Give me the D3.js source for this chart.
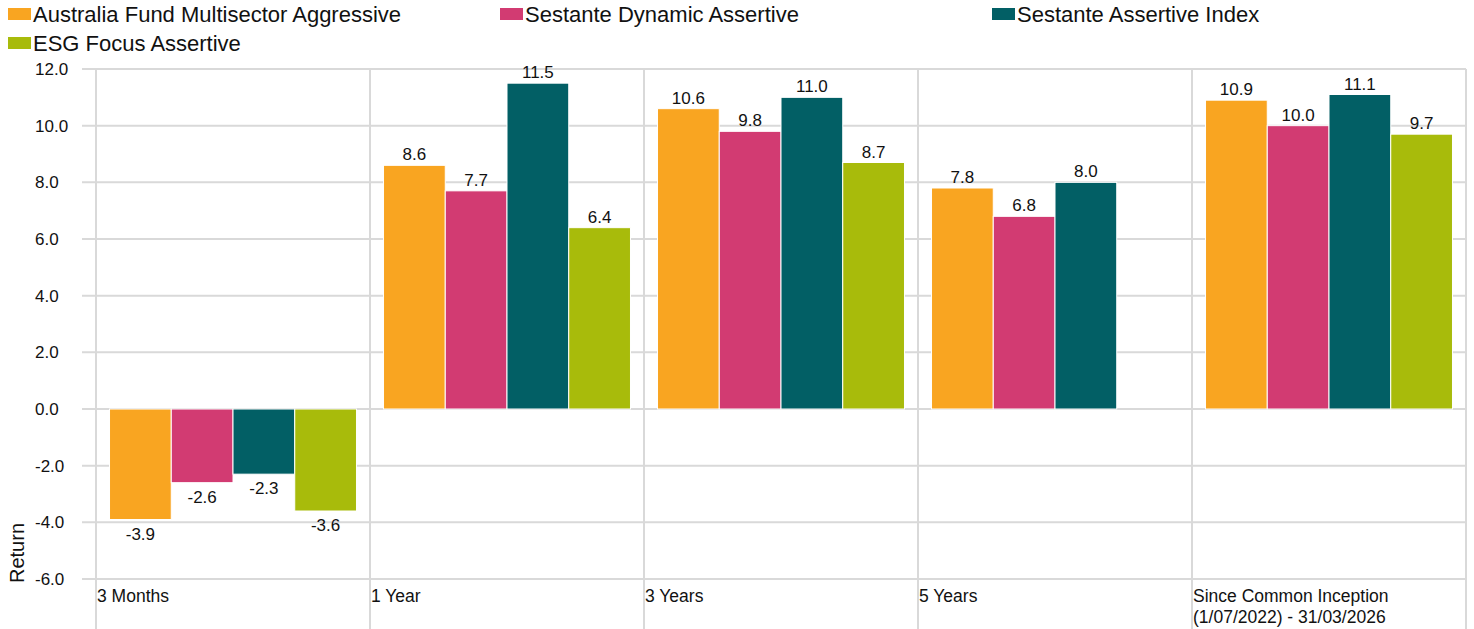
<!DOCTYPE html>
<html>
<head>
<meta charset="utf-8">
<script src="https://cdn.jsdelivr.net/npm/d3@7"></script>
<style>
  html, body { margin: 0; padding: 0; background: #fff; }
  svg { display: block; font-family: "Liberation Sans", Arial, sans-serif; }
</style>
</head>
<body>
<svg id="chart" width="1474" height="629"></svg>
<script>
const categories = ["3 Months", "1 Year", "3 Years", "5 Years", "Since Common Inception\n(1/07/2022) - 31/03/2026"];
const seriesNames = ["Australia Fund Multisector Aggressive", "Sestante Dynamic Assertive", "Sestante Assertive Index", "ESG Focus Assertive"];
const seriesColors = ["#F9A521", "#D23B72", "#025F65", "#A8BB0B"];
const australiaFund = [-3.9, 8.6, 10.6, 7.8, 10.9];
const sestanteDynamic = [-2.6, 7.7, 9.8, 6.8, 10.0];
const sestanteIndex = [-2.3, 11.5, 11.0, 8.0, 11.1];
const esgFocus = [-3.6, 6.4, 8.7, null, 9.7];
const yTicks = [-6, -4, -2, 0, 2, 4, 6, 8, 10, 12];
const yTitle = "Return";

const seriesValues = [australiaFund, sestanteDynamic, sestanteIndex, esgFocus];

(function () {
const svg = d3.select("#chart");
const pLeft = 96, pRight = 1466, pTop = 69, pBottom = 579;

const x0 = d3.scaleBand().domain(categories).range([pLeft, pRight]).paddingInner(0).paddingOuter(0);
const x1 = d3.scaleBand().domain(seriesNames).range([0, x0.bandwidth()]).paddingInner(0).paddingOuter(0.219);
const y = d3.scaleLinear().domain([-6, 12]).range([pBottom, pTop]);

const grid = "#d9d9d9";
const ink = "#111";

// horizontal gridlines
svg.append("g").selectAll("line").data(yTicks).join("line")
  .attr("x1", 82).attr("x2", pRight)
  .attr("y1", d => y(d)).attr("y2", d => y(d))
  .attr("stroke", grid).attr("stroke-width", 2);

// vertical gridlines
const vlines = categories.map(c => x0(c)).concat([pRight]);
svg.append("g").selectAll("line").data(vlines).join("line")
  .attr("x1", d => d).attr("x2", d => d)
  .attr("y1", pTop).attr("y2", 629)
  .attr("stroke", grid).attr("stroke-width", 2);

// y tick labels
svg.append("g").selectAll("text").data(yTicks).join("text")
  .attr("x", 35).attr("y", d => y(d) + 6)
  .attr("font-size", 17).attr("fill", ink)
  .text(d => d.toFixed(1));

// y title
svg.append("text")
  .attr("transform", "translate(24,553) rotate(-90)")
  .attr("text-anchor", "middle")
  .attr("font-size", 20).attr("fill", ink)
  .text(yTitle);

// bars
const barData = [];
categories.forEach((c, ci) => {
  seriesNames.forEach((s, si) => {
    const v = seriesValues[si][ci];
    if (v !== null && v !== undefined) barData.push({ c, s, si, v });
  });
});

svg.append("g").selectAll("rect").data(barData).join("rect")
  .attr("x", d => x0(d.c) + x1(d.s))
  .attr("width", x1.bandwidth())
  .attr("y", d => y(Math.max(0, d.v)))
  .attr("height", d => Math.abs(y(d.v) - y(0)))
  .attr("fill", d => seriesColors[d.si])
  .attr("stroke", "#fff").attr("stroke-width", 1);

// value labels
svg.append("g").selectAll("text").data(barData).join("text")
  .attr("x", d => x0(d.c) + x1(d.s) + x1.bandwidth() / 2)
  .attr("y", d => d.v >= 0 ? y(d.v) - 5 : y(d.v) + 20)
  .attr("text-anchor", "middle")
  .attr("font-size", 17).attr("fill", ink)
  .text(d => d.v.toFixed(1));

// category labels
const catG = svg.append("g").selectAll("text").data(categories).join("text")
  .attr("x", d => x0(d) + 1).attr("y", 602)
  .attr("font-size", 17.5).attr("fill", ink);
catG.each(function(d) {
  const lines = d.split("\n");
  d3.select(this).selectAll("tspan").data(lines).join("tspan")
    .attr("x", x0(d) + 1)
    .attr("dy", (l, i) => i === 0 ? 0 : 21)
    .text(l => l);
});

// legend
const legendPos = [[8, 0], [500, 0], [992, 0], [8, 29]];
const lg = svg.append("g").selectAll("g").data(seriesNames).join("g")
  .attr("transform", (d, i) => `translate(${legendPos[i][0]},${legendPos[i][1]})`);
lg.append("rect").attr("x", 0).attr("y", 8).attr("width", 23).attr("height", 12)
  .attr("fill", (d, i) => seriesColors[i]);
lg.append("text").attr("x", 25).attr("y", 22)
  .attr("font-size", 22).attr("fill", ink)
  .text(d => d);
})();
</script>
</body>
</html>
